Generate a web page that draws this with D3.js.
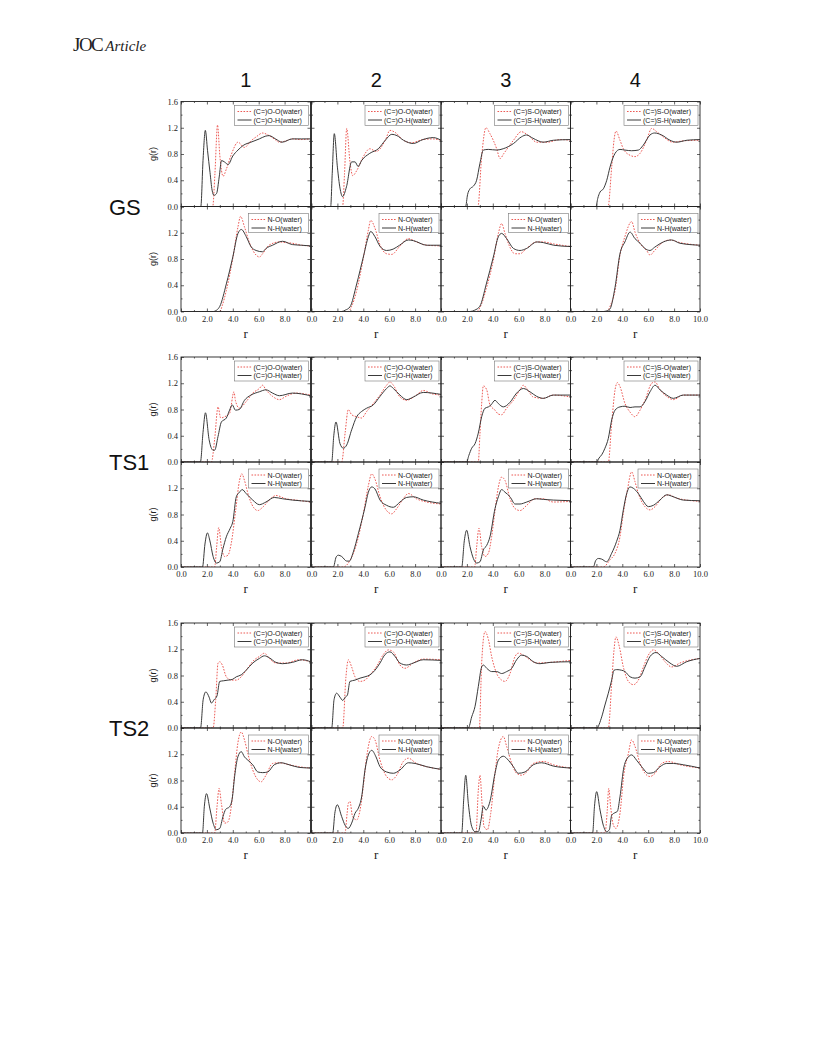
<!DOCTYPE html>
<html>
<head>
<meta charset="utf-8" />
<title>g(r) panels</title>
<script src="https://d3js.org/d3.v7.min.js"></script>
<style>
  body { margin: 0; background: #fff; }
  svg { display: block; }
</style>
</head>
<body>
<div id="chart"></div>
<script>
// ---- data (r, g(r)) ----
var colTitles = ["1", "2", "3", "4"];
var groupNames = ["GS", "TS1", "TS2"];
var xMajor = [0, 2, 4, 6, 8, 10];
var xMinor = [1, 3, 5, 7, 9];
var yMajorUpper = [0, 0.4, 0.8, 1.2, 1.6];
var yMajorLower = [0, 0.4, 0.8, 1.2];
var yMinor = [0.2, 0.6, 1.0, 1.4];
var legendUpperO = ["(C=)O-O(water)", "(C=)O-H(water)"];
var legendUpperS = ["(C=)S-O(water)", "(C=)S-H(water)"];
var legendLower = ["N-O(water)", "N-H(water)"];

// GS
var gs1_OO = [[0,0],[2.45,0],[2.62,0.5],[2.82,1.24],[3.0,0.77],[3.25,0.46],[3.5,0.57],[3.9,0.8],[4.4,0.98],[4.9,0.9],[5.4,1.0],[5.8,1.06],[6.3,1.12],[6.8,1.08],[7.2,1.03],[7.6,0.98],[8.1,1.0],[8.6,1.03],[9.2,1.02],[10,1.03]];
var gs1_OH = [[0,0],[1.53,0],[1.7,0.7],[1.88,1.16],[2.05,0.85],[2.24,0.52],[2.4,0.25],[2.55,0.17],[2.75,0.2],[2.95,0.45],[3.13,0.7],[3.35,0.68],[3.64,0.64],[4.0,0.77],[4.4,0.86],[4.8,0.93],[5.4,0.98],[6.05,1.03],[6.5,1.07],[6.8,1.08],[7.3,1.03],[7.8,0.98],[8.6,1.03],[9.3,1.03],[10,1.03]];
var gs1_NO = [[0,0],[3.0,0],[3.2,0.1],[3.5,0.32],[4.0,0.81],[4.4,1.29],[4.6,1.45],[4.9,1.29],[5.3,1.04],[5.8,0.86],[6.05,0.83],[6.3,0.88],[6.8,1.01],[7.6,1.06],[8.1,1.05],[8.6,1.04],[9.3,1.01],[10,1.0]];
var gs1_NH = [[0,0],[2.5,0],[2.75,0.02],[3.0,0.08],[3.5,0.42],[4.0,0.83],[4.4,1.19],[4.66,1.25],[5.04,1.14],[5.4,0.99],[5.8,0.93],[6.3,0.91],[6.56,0.96],[7.07,1.01],[7.84,1.07],[8.6,1.02],[9.3,1.01],[10,1.0]];
var gs2_OO = [[0,0],[2.4,0],[2.55,0.5],[2.72,1.19],[2.97,0.68],[3.18,0.47],[3.5,0.55],[4.0,0.76],[4.5,0.88],[5.0,0.84],[5.7,1.01],[6.06,1.16],[6.45,1.13],[7.1,1.01],[7.7,0.97],[8.6,1.02],[9.3,1.03],[10,1.01]];
var gs2_OH = [[0,0],[1.48,0],[1.6,0.5],[1.76,1.11],[2.0,0.6],[2.2,0.28],[2.4,0.15],[2.7,0.3],[3.1,0.68],[3.36,0.68],[3.6,0.61],[3.87,0.7],[4.5,0.81],[5.16,0.88],[5.7,1.01],[6.2,1.1],[6.6,1.08],[7.1,1.01],[7.86,0.96],[8.6,1.02],[9.4,1.05],[10,1.01]];
var gs2_NO = [[0,0],[2.84,0],[3.1,0.08],[3.49,0.32],[4.0,0.81],[4.39,1.24],[4.57,1.39],[4.9,1.27],[5.3,1.01],[5.8,0.88],[6.2,0.87],[6.8,0.99],[7.48,1.11],[8.1,1.06],[8.9,1.01],[10,1.0]];
var gs2_NH = [[0,0],[2.33,0],[2.6,0.02],[2.97,0.07],[3.49,0.42],[4.0,0.83],[4.39,1.14],[4.57,1.22],[4.9,1.14],[5.3,0.99],[5.8,0.93],[6.3,0.95],[6.8,1.01],[7.48,1.09],[7.86,1.08],[8.9,1.01],[10,1.01]];
var gs3_SO = [[0,0],[2.85,0],[3.14,0.76],[3.47,1.2],[3.78,1.11],[4.3,0.88],[4.56,0.73],[4.86,0.81],[5.6,1.01],[6.2,1.14],[6.7,1.09],[7.4,0.98],[8.2,0.98],[9.2,1.02],[10,1.01]];
var gs3_SH = [[0,0],[1.9,0],[2.05,0.18],[2.24,0.27],[2.5,0.31],[2.75,0.4],[3.0,0.65],[3.27,0.86],[3.65,0.87],[4.3,0.86],[4.8,0.88],[5.6,0.96],[6.2,1.06],[6.6,1.09],[7.1,1.04],[7.9,0.98],[8.7,1.01],[10,1.02]];
var gs3_NO = [[0,0],[2.75,0],[3.1,0.1],[3.5,0.35],[4.04,0.78],[4.43,1.19],[4.68,1.34],[4.94,1.19],[5.3,0.99],[5.7,0.88],[6.1,0.88],[6.6,0.96],[7.4,1.06],[7.9,1.06],[8.7,1.03],[10,0.99]];
var gs3_NH = [[0,0],[2.24,0],[2.6,0.02],[3.0,0.08],[3.5,0.42],[4.04,0.83],[4.43,1.14],[4.68,1.19],[5.07,1.11],[5.6,0.96],[6.1,0.93],[6.6,0.96],[7.4,1.06],[7.9,1.05],[8.7,1.01],[10,0.99]];
var gs4_SO = [[0,0],[2.9,0],[3.18,0.6],[3.36,1.01],[3.51,1.15],[3.82,1.01],[4.08,0.88],[4.6,0.78],[4.98,0.76],[5.37,0.81],[5.88,1.01],[6.27,1.19],[6.65,1.14],[7.17,1.06],[7.9,0.98],[8.7,1.0],[10,1.01]];
var gs4_SH = [[0,0],[1.97,0],[2.1,0.12],[2.28,0.22],[2.54,0.27],[2.8,0.4],[3.05,0.6],[3.44,0.81],[3.82,0.87],[4.2,0.86],[4.72,0.85],[5.24,0.86],[5.6,0.93],[6.14,1.09],[6.5,1.12],[7.04,1.09],[7.68,1.01],[8.2,0.98],[9.0,1.01],[10,1.02]];
var gs4_NO = [[0,0],[2.8,0],[3.1,0.1],[3.44,0.32],[3.82,0.86],[4.2,1.14],[4.72,1.37],[4.98,1.21],[5.37,1.04],[5.88,0.93],[6.14,0.86],[6.5,0.93],[7.17,1.06],[7.68,1.09],[8.45,1.05],[10,1.01]];
var gs4_NH = [[0,0],[2.54,0],[2.8,0.01],[3.05,0.04],[3.44,0.37],[3.82,0.88],[4.2,1.06],[4.6,1.21],[4.98,1.11],[5.37,1.04],[5.75,0.96],[6.14,0.93],[6.5,0.98],[7.17,1.06],[7.8,1.09],[8.45,1.04],[10,1.01]];

// TS1
var ts1_1_OO = [[0,0],[2.35,0],[2.6,0.35],[2.86,0.84],[3.07,0.67],[3.37,0.69],[3.75,0.74],[4.09,1.07],[4.2,0.94],[4.5,0.82],[5.03,0.92],[5.54,1.05],[6.05,1.12],[6.3,1.17],[6.56,1.1],[7.07,1.0],[7.6,0.95],[8.1,1.0],[8.86,1.05],[10,1.02]];
var ts1_1_OH = [[0,0],[1.5,0],[1.7,0.45],[1.89,0.75],[2.17,0.34],[2.48,0.18],[2.6,0.18],[2.86,0.39],[3.12,0.61],[3.5,0.67],[3.75,0.79],[3.96,0.87],[4.2,0.79],[4.5,0.8],[4.9,0.94],[5.4,1.02],[6.05,1.07],[6.56,1.1],[7.07,1.05],[7.6,1.01],[8.6,1.05],[10,1.01]];
var ts1_1_NO = [[0,0],[2.6,0],[2.75,0.3],[2.91,0.6],[3.12,0.31],[3.37,0.16],[3.63,0.18],[3.88,0.36],[4.22,0.86],[4.52,1.32],[4.7,1.42],[4.9,1.32],[5.24,1.07],[5.67,0.89],[5.93,0.86],[6.3,0.91],[6.82,1.02],[7.33,1.09],[8.1,1.04],[8.86,1.02],[10,0.99]];
var ts1_1_NH = [[0,0],[1.66,0],[1.85,0.35],[2.04,0.52],[2.22,0.41],[2.48,0.16],[2.73,0.06],[2.99,0.08],[3.24,0.28],[3.5,0.46],[3.8,0.59],[4.0,0.69],[4.27,1.07],[4.52,1.14],[4.72,1.18],[5.03,1.12],[5.54,1.02],[6.05,0.95],[6.56,0.99],[7.2,1.06],[7.84,1.04],[8.6,1.02],[10,1.0]];
var ts1_2_OO = [[0,0],[2.33,0],[2.6,0.45],[2.84,0.8],[3.1,0.72],[3.49,0.69],[3.87,0.67],[4.26,0.77],[4.77,0.89],[5.29,1.02],[5.8,1.17],[6.06,1.22],[6.32,1.17],[6.83,0.99],[7.35,0.94],[8.1,1.02],[8.63,1.09],[9.3,1.04],[10,1.02]];
var ts1_2_OH = [[0,0],[1.56,0],[1.72,0.4],[1.89,0.61],[2.2,0.28],[2.46,0.21],[2.72,0.26],[3.1,0.49],[3.49,0.69],[3.87,0.77],[4.26,0.82],[4.77,0.87],[5.29,1.0],[5.8,1.12],[6.06,1.16],[6.32,1.12],[6.83,1.02],[7.35,0.95],[7.86,0.99],[8.63,1.06],[10,1.03]];
var ts1_2_NO = [[0,0],[2.46,0],[2.97,0.1],[3.49,0.36],[4.0,0.81],[4.39,1.24],[4.65,1.42],[4.9,1.34],[5.29,1.07],[5.8,0.86],[6.19,0.81],[6.58,0.89],[7.09,1.04],[7.48,1.12],[8.1,1.04],[8.9,0.99],[10,0.96]];
var ts1_2_NH = [[0,0],[1.69,0],[1.9,0.15],[2.07,0.18],[2.33,0.16],[2.72,0.09],[2.92,0.09],[3.23,0.23],[3.62,0.51],[4.13,0.91],[4.39,1.14],[4.65,1.22],[4.9,1.19],[5.29,1.02],[5.8,0.94],[6.32,0.91],[6.83,0.99],[7.35,1.06],[7.86,1.07],[8.63,1.02],[10,0.97]];
var ts1_3_SO = [[0,0],[2.88,0],[3.0,0.4],[3.14,0.89],[3.27,1.16],[3.53,1.1],[3.78,0.87],[4.17,0.79],[4.43,0.73],[4.68,0.72],[5.07,0.82],[5.59,0.94],[6.1,1.1],[6.36,1.17],[6.62,1.12],[7.13,0.99],[7.9,0.97],[8.67,1.02],[10,0.99]];
var ts1_3_SH = [[0,0],[1.98,0],[2.15,0.1],[2.37,0.21],[2.63,0.28],[2.88,0.44],[3.14,0.69],[3.4,0.82],[3.66,0.84],[3.86,0.87],[4.17,0.94],[4.43,0.89],[4.81,0.84],[5.33,0.91],[5.84,1.05],[6.36,1.12],[6.87,1.07],[7.39,1.0],[7.9,0.97],[8.67,1.02],[10,1.02]];
var ts1_3_NO = [[0,0],[2.6,0],[2.75,0.3],[2.93,0.59],[3.14,0.31],[3.4,0.16],[3.66,0.21],[3.91,0.46],[4.17,0.86],[4.43,1.22],[4.68,1.37],[4.94,1.32],[5.33,1.04],[5.72,0.89],[6.1,0.86],[6.62,0.94],[7.26,1.04],[7.9,1.04],[8.67,0.99],[10,1.0]];
var ts1_3_NH = [[0,0],[1.6,0],[1.8,0.4],[1.98,0.56],[2.24,0.31],[2.5,0.13],[2.75,0.06],[3.01,0.08],[3.27,0.26],[3.53,0.33],[3.78,0.46],[4.17,0.89],[4.43,1.07],[4.68,1.18],[4.94,1.14],[5.33,1.07],[5.72,0.96],[6.1,0.96],[6.62,0.99],[7.39,1.04],[7.9,1.03],[8.67,1.02],[10,1.01]];
var ts1_4_SO = [[0,0],[2.92,0],[3.18,0.59],[3.44,1.1],[3.62,1.21],[3.82,1.15],[4.21,0.89],[4.6,0.76],[4.98,0.69],[5.37,0.79],[5.75,0.94],[6.27,1.2],[6.53,1.22],[6.91,1.1],[7.43,1.0],[7.94,0.95],[8.71,1.02],[10,1.02]];
var ts1_4_SH = [[0,0],[2.02,0],[2.2,0.06],[2.41,0.11],[2.66,0.21],[2.92,0.36],[3.18,0.64],[3.44,0.79],[3.82,0.84],[4.21,0.85],[4.6,0.83],[4.98,0.84],[5.37,0.84],[5.75,0.92],[6.14,1.07],[6.53,1.17],[6.91,1.1],[7.43,1.02],[7.94,0.97],[8.71,1.02],[10,1.02]];
var ts1_4_NO = [[0,0],[2.53,0],[3.05,0.11],[3.44,0.21],[3.82,0.46],[4.08,0.82],[4.39,1.17],[4.72,1.45],[4.98,1.3],[5.24,1.12],[5.75,0.92],[6.14,0.87],[6.53,0.92],[7.04,1.05],[7.56,1.1],[8.2,1.05],[10,1.0]];
var ts1_4_NH = [[0,0],[1.76,0],[1.95,0.1],[2.15,0.13],[2.41,0.12],[2.79,0.08],[3.18,0.21],[3.56,0.39],[3.82,0.56],[4.08,0.87],[4.34,1.12],[4.6,1.22],[4.85,1.2],[5.24,1.12],[5.63,1.0],[6.01,0.92],[6.4,0.94],[6.91,1.02],[7.43,1.1],[7.94,1.07],[8.71,1.02],[10,1.01]];

// TS2
var ts2_1_OO = [[0,0],[2.48,0],[2.68,0.43],[2.86,0.99],[2.99,1.01],[3.19,0.96],[3.5,0.78],[3.88,0.73],[4.27,0.73],[4.65,0.78],[5.03,0.88],[5.67,1.04],[6.05,1.09],[6.44,1.14],[6.82,1.06],[7.33,0.99],[8.1,0.99],[9.12,1.04],[10,1.01]];
var ts2_1_OH = [[0,0],[1.51,0],[1.71,0.43],[1.92,0.55],[2.17,0.47],[2.35,0.38],[2.55,0.43],[2.78,0.49],[2.99,0.71],[3.3,0.72],[3.63,0.73],[3.96,0.74],[4.27,0.78],[4.65,0.81],[5.03,0.88],[5.54,0.99],[6.05,1.06],[6.44,1.1],[6.82,1.07],[7.33,1.0],[7.84,0.98],[8.6,1.0],[9.37,1.04],[10,1.01]];
var ts2_1_NO = [[0,0],[2.6,0],[2.78,0.4],[2.94,0.68],[3.12,0.45],[3.37,0.15],[3.63,0.17],[3.88,0.4],[4.14,0.91],[4.39,1.37],[4.65,1.54],[4.9,1.42],[5.16,1.21],[5.54,0.96],[5.93,0.81],[6.18,0.78],[6.56,0.88],[7.07,1.06],[7.58,1.07],[8.35,1.04],[9.12,1.01],[10,0.99]];
var ts2_1_NH = [[0,0],[1.66,0],[1.8,0.4],[1.97,0.6],[2.22,0.38],[2.48,0.15],[2.73,0.05],[2.99,0.07],[3.24,0.25],[3.45,0.36],[3.75,0.4],[3.96,0.53],[4.14,0.86],[4.39,1.16],[4.65,1.24],[4.9,1.16],[5.16,1.11],[5.54,1.04],[5.93,0.93],[6.31,0.92],[6.7,0.93],[7.2,1.04],[7.74,1.07],[8.35,1.04],[9.12,1.0],[10,0.99]];
var ts2_2_OO = [[0,0],[2.41,0],[2.66,0.78],[2.84,1.04],[3.1,0.93],[3.36,0.78],[3.75,0.71],[4.13,0.73],[4.52,0.81],[5.03,0.94],[5.55,1.12],[5.93,1.19],[6.32,1.16],[6.83,0.96],[7.22,0.91],[7.86,0.99],[8.63,1.05],[10,1.04]];
var ts2_2_OH = [[0,0],[1.56,0],[1.74,0.43],[1.94,0.53],[2.2,0.47],[2.41,0.42],[2.61,0.47],[2.77,0.5],[2.97,0.71],[3.36,0.73],[3.75,0.76],[4.13,0.78],[4.52,0.81],[4.9,0.88],[5.29,0.99],[5.68,1.12],[6.06,1.16],[6.45,1.09],[6.83,0.99],[7.35,0.96],[7.86,0.99],[8.63,1.04],[10,1.03]];
var ts2_2_NO = [[0,0],[2.59,0],[2.75,0.3],[2.84,0.45],[2.97,0.48],[3.17,0.25],[3.49,0.2],[3.75,0.35],[4.0,0.71],[4.26,1.16],[4.65,1.47],[4.9,1.42],[5.29,1.11],[5.8,0.86],[6.19,0.81],[6.58,0.88],[7.09,1.09],[7.48,1.14],[8.1,1.06],[8.9,1.01],[10,0.97]];
var ts2_2_NH = [[0,0],[1.64,0],[1.8,0.3],[1.99,0.43],[2.33,0.25],[2.59,0.12],[2.84,0.07],[3.1,0.15],[3.36,0.3],[3.62,0.38],[3.87,0.55],[4.13,0.96],[4.39,1.19],[4.65,1.26],[4.98,1.16],[5.29,1.01],[5.8,0.93],[6.32,0.91],[6.83,0.96],[7.48,1.07],[8.0,1.06],[8.9,1.01],[10,0.97]];
var ts2_3_SO = [[0,0],[2.96,0],[3.14,0.99],[3.4,1.47],[3.66,1.35],[3.91,1.09],[4.3,0.83],[4.68,0.73],[4.94,0.71],[5.33,0.83],[5.72,1.09],[5.97,1.14],[6.36,1.11],[6.87,1.04],[7.39,0.99],[8.42,1.0],[10,1.03]];
var ts2_3_SH = [[0,0],[2.11,0],[2.37,0.17],[2.63,0.33],[2.88,0.63],[3.14,0.93],[3.27,0.96],[3.53,0.91],[3.91,0.86],[4.3,0.86],[4.68,0.83],[5.07,0.86],[5.46,0.91],[5.84,1.04],[6.23,1.11],[6.62,1.09],[7.13,1.01],[7.64,0.98],[8.42,1.0],[10,1.01]];
var ts2_3_NO = [[0,0],[2.7,0],[2.88,0.65],[3.01,0.88],[3.17,0.45],[3.32,0.1],[3.58,0.05],[3.84,0.3],[4.17,0.91],[4.43,1.29],[4.81,1.47],[5.07,1.32],[5.46,1.06],[5.84,0.91],[6.23,0.88],[6.62,0.93],[7.13,1.06],[7.9,1.09],[8.67,1.04],[10,0.99]];
var ts2_3_NH = [[0,0],[1.6,0],[1.75,0.5],[1.91,0.88],[2.11,0.45],[2.37,0.1],[2.63,0.02],[2.88,0.02],[3.09,0.2],[3.27,0.41],[3.47,0.35],[3.78,0.48],[4.17,0.91],[4.43,1.11],[4.81,1.17],[5.2,1.11],[5.59,1.01],[5.97,0.91],[6.49,0.93],[7.13,1.04],[7.77,1.07],[8.67,1.02],[10,0.99]];
var ts2_4_SO = [[0,0],[2.92,0],[3.18,0.68],[3.36,1.19],[3.51,1.39],[3.77,1.24],[4.08,0.93],[4.47,0.71],[4.85,0.66],[5.24,0.73],[5.63,0.93],[6.01,1.11],[6.4,1.19],[6.78,1.14],[7.3,1.01],[7.81,0.93],[8.45,0.99],[10,1.06]];
var ts2_4_SH = [[0,0],[2.02,0],[2.41,0.17],[2.66,0.35],[2.92,0.53],[3.18,0.73],[3.36,0.88],[3.57,0.89],[3.95,0.88],[4.21,0.86],[4.6,0.78],[4.98,0.76],[5.37,0.78],[5.75,0.93],[6.14,1.09],[6.6,1.15],[7.04,1.09],[7.68,0.99],[8.2,0.94],[8.97,1.01],[10,1.06]];
var ts2_4_NO = [[0,0],[2.66,0],[2.84,0.35],[2.95,0.68],[3.1,0.4],[3.31,0.12],[3.51,0.07],[3.82,0.3],[4.13,0.91],[4.47,1.21],[4.72,1.42],[4.98,1.32],[5.37,1.06],[5.75,0.91],[6.14,0.86],[6.53,0.91],[7.04,1.06],[7.56,1.09],[8.45,1.04],[10,0.99]];
var ts2_4_NH = [[0,0],[1.71,0],[1.85,0.4],[2.02,0.63],[2.28,0.35],[2.53,0.12],[2.79,0.02],[3.0,0.05],[3.18,0.27],[3.44,0.31],[3.62,0.33],[3.82,0.55],[4.13,1.01],[4.47,1.16],[4.72,1.19],[5.1,1.11],[5.5,1.01],[6.01,0.91],[6.4,0.92],[6.91,1.01],[7.43,1.06],[7.94,1.06],[8.71,1.04],[10,0.99]];

// [group][column] -> {upper: [red, black], lower: [red, black]}
var panels = [
  [
    { upper: [gs1_OO, gs1_OH], lower: [gs1_NO, gs1_NH] },
    { upper: [gs2_OO, gs2_OH], lower: [gs2_NO, gs2_NH] },
    { upper: [gs3_SO, gs3_SH], lower: [gs3_NO, gs3_NH] },
    { upper: [gs4_SO, gs4_SH], lower: [gs4_NO, gs4_NH] }
  ],
  [
    { upper: [ts1_1_OO, ts1_1_OH], lower: [ts1_1_NO, ts1_1_NH] },
    { upper: [ts1_2_OO, ts1_2_OH], lower: [ts1_2_NO, ts1_2_NH] },
    { upper: [ts1_3_SO, ts1_3_SH], lower: [ts1_3_NO, ts1_3_NH] },
    { upper: [ts1_4_SO, ts1_4_SH], lower: [ts1_4_NO, ts1_4_NH] }
  ],
  [
    { upper: [ts2_1_OO, ts2_1_OH], lower: [ts2_1_NO, ts2_1_NH] },
    { upper: [ts2_2_OO, ts2_2_OH], lower: [ts2_2_NO, ts2_2_NH] },
    { upper: [ts2_3_SO, ts2_3_SH], lower: [ts2_3_NO, ts2_3_NH] },
    { upper: [ts2_4_SO, ts2_4_SH], lower: [ts2_4_NO, ts2_4_NH] }
  ]
];

// ---- layout ----
var width = 816, height = 1056;
var colLeft = [181, 311.5, 441, 570.5];
var panelW = 129.5;
var panelH = 105;
var groupTop = [101.5, 357, 623];

var red = "#ec5a55";
var black = "#3a3a3a";
var serif = "'Liberation Serif', 'Times New Roman', serif";
var sans = "'Liberation Sans', Arial, sans-serif";

var svg = d3.select("#chart").append("svg")
  .attr("width", width)
  .attr("height", height)
  .attr("viewBox", [0, 0, width, height]);

// page header
var head = svg.append("text").attr("x", 73).attr("y", 51).attr("fill", "#222");
head.append("tspan").attr("font-family", serif).attr("font-size", 19).attr("letter-spacing", -1.5).text("JOC");
head.append("tspan").attr("dx", 3).attr("font-family", serif).attr("font-style", "italic").attr("font-size", 15).text("Article");

// column titles
svg.selectAll(".coltitle")
  .data(colTitles)
  .join("text")
  .attr("class", "coltitle")
  .attr("x", (d, i) => colLeft[i] + panelW / 2)
  .attr("y", 87)
  .attr("text-anchor", "middle")
  .attr("font-family", sans)
  .attr("font-size", 20)
  .attr("fill", "#111")
  .text(d => d);

// group labels
svg.selectAll(".grouplabel")
  .data(groupNames)
  .join("text")
  .attr("class", "grouplabel")
  .attr("x", 109)
  .attr("y", (d, i) => groupTop[i] + panelH + 8)
  .attr("font-family", sans)
  .attr("font-size", 22)
  .attr("fill", "#111")
  .text(d => d);

var defs = svg.append("defs");
defs.append("clipPath").attr("id", "clipPanel")
  .append("rect").attr("x", 0).attr("y", 0).attr("width", panelW).attr("height", panelH);

function drawPanel(gi, ci, isLower) {
  var x0 = colLeft[ci];
  var y0 = groupTop[gi] + (isLower ? panelH : 0);
  var g = svg.append("g").attr("transform", `translate(${x0},${y0})`);

  var x = d3.scaleLinear().domain([0, 10]).range([0, panelW]);
  var y = d3.scaleLinear().domain([0, 1.6]).range([panelH, 0]);

  var series = isLower ? panels[gi][ci].lower : panels[gi][ci].upper;

  var line = d3.line()
    .x(d => x(d[0]))
    .y(d => y(d[1]))
    .curve(d3.curveMonotoneX);

  var plot = g.append("g").attr("clip-path", "url(#clipPanel)");
  plot.append("path")
    .datum(series[0])
    .attr("fill", "none")
    .attr("stroke", red)
    .attr("stroke-width", 1)
    .attr("stroke-dasharray", "1.6,1.4")
    .attr("d", line);
  plot.append("path")
    .datum(series[1])
    .attr("fill", "none")
    .attr("stroke", black)
    .attr("stroke-width", 1)
    .attr("d", line);

  // ticks on all four sides, pointing inward
  var fmt = d3.format(".1f");
  var showX = isLower;
  var showY = ci === 0;
  var xLabelVals = ci === 3 ? xMajor : xMajor.slice(0, 5);

  g.append("g").attr("transform", `translate(0,${panelH})`)
    .call(d3.axisBottom(x).tickValues(xMajor).tickSize(-3).tickPadding(4)
      .tickFormat(d => (showX && xLabelVals.indexOf(d) >= 0) ? fmt(d) : ""));
  g.append("g").attr("transform", `translate(0,${panelH})`)
    .call(d3.axisBottom(x).tickValues(xMinor).tickSize(-1.5).tickFormat(""));
  g.append("g").call(d3.axisTop(x).tickValues(xMajor).tickSize(-3).tickFormat(""));
  g.append("g").call(d3.axisTop(x).tickValues(xMinor).tickSize(-1.5).tickFormat(""));

  var yVals = isLower ? yMajorLower : yMajorUpper;
  g.append("g")
    .call(d3.axisLeft(y).tickValues(yMajorUpper).tickSize(-3).tickPadding(3)
      .tickFormat(d => (showY && yVals.indexOf(d) >= 0) ? fmt(d) : ""));
  g.append("g").call(d3.axisLeft(y).tickValues(yMinor).tickSize(-1.5).tickFormat(""));
  g.append("g").attr("transform", `translate(${panelW},0)`)
    .call(d3.axisRight(y).tickValues(yMajorUpper).tickSize(-3).tickFormat(""));
  g.append("g").attr("transform", `translate(${panelW},0)`)
    .call(d3.axisRight(y).tickValues(yMinor).tickSize(-1.5).tickFormat(""));

  g.selectAll(".domain").remove();
  g.selectAll(".tick line").attr("stroke", "#222").attr("stroke-width", 0.7);
  g.selectAll(".tick text")
    .attr("font-family", serif)
    .attr("font-size", 8.5)
    .attr("fill", "#222");

  // frame
  g.append("rect")
    .attr("width", panelW).attr("height", panelH)
    .attr("fill", "none").attr("stroke", "#222").attr("stroke-width", 0.9);

  if (showY) {
    g.append("text")
      .attr("transform", `translate(-25,${panelH / 2}) rotate(-90)`)
      .attr("text-anchor", "middle")
      .attr("font-family", sans)
      .attr("font-size", 9)
      .attr("fill", "#222")
      .text("g(r)");
  }
  if (showX) {
    g.append("text")
      .attr("x", panelW / 2)
      .attr("y", panelH + 26)
      .attr("text-anchor", "middle")
      .attr("font-family", serif)
      .attr("font-size", 13)
      .attr("fill", "#222")
      .text("r");
  }

  // legend
  var labels = isLower ? legendLower : (ci < 2 ? legendUpperO : legendUpperS);
  var lw = isLower ? 60 : 74, lh = isLower ? 19 : 20;
  var lx = panelW - lw - 2, ly = isLower ? 7 : 4;
  var lg = g.append("g").attr("transform", `translate(${lx},${ly})`);
  lg.append("rect").attr("width", lw).attr("height", lh)
    .attr("fill", "#fff").attr("stroke", "#777").attr("stroke-width", 0.6);
  var rows = [
    { label: labels[0], color: red, dotted: true },
    { label: labels[1], color: black, dotted: false }
  ];
  rows.forEach(function (r, i) {
    var yy = 6 + i * 8.5;
    var sample = lg.append("line")
      .attr("x1", 3).attr("x2", 17).attr("y1", yy).attr("y2", yy)
      .attr("stroke", r.color).attr("stroke-width", 1);
    if (r.dotted) sample.attr("stroke-dasharray", "1.6,1.4");
    lg.append("text")
      .attr("x", 19).attr("y", yy + 2.5)
      .attr("font-family", sans)
      .attr("font-size", 7)
      .attr("fill", "#222")
      .text(r.label);
  });
}

for (var gi = 0; gi < 3; gi++) {
  for (var ci = 0; ci < 4; ci++) {
    drawPanel(gi, ci, false);
    drawPanel(gi, ci, true);
  }
}
</script>
</body>
</html>
